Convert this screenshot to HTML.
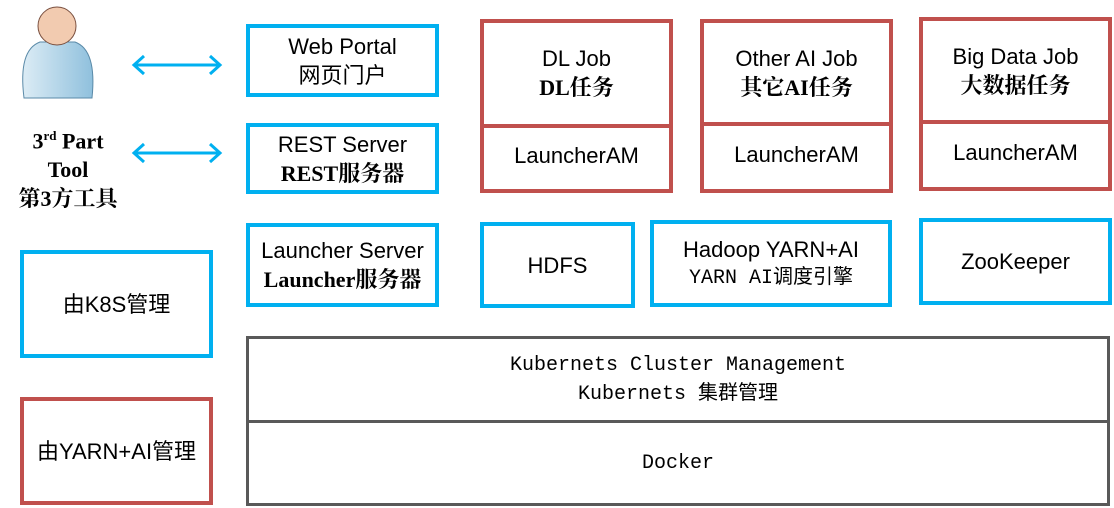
<!DOCTYPE html>
<html><head><meta charset="utf-8"><style>
body{margin:0;width:1114px;height:508px;background:#fff;position:relative;overflow:hidden;font-family:"Liberation Sans","Noto Sans CJK SC",sans-serif;color:#000}
.b{position:absolute;box-sizing:border-box;display:flex;flex-direction:column;align-items:center;justify-content:center;text-align:center;font-size:22px;line-height:29px}
.bl{border:4px solid #00b0f0}
.rd{border:4px solid #c0504d}
.gr{border:3px solid #595959}
.sf{font-family:"Liberation Serif","Noto Serif CJK SC",serif;font-weight:bold}
.mono{font-family:"Liberation Mono","Noto Sans CJK SC",monospace;font-size:20px}
.dv{position:absolute;left:0;right:0;height:0;border-top:4px solid #c0504d}
</style></head><body>
<svg style="position:absolute;left:0;top:0" width="1114" height="508">
<defs><linearGradient id="g" x1="0" x2="1"><stop offset="0" stop-color="#dcecf5"/><stop offset="1" stop-color="#8fc0dd"/></linearGradient></defs>
<path d="M24 98 Q18 50 40 42 L75 42 Q97 50 92 98 Z" fill="url(#g)" stroke="#5a8aa8"/>
<circle cx="57" cy="26" r="19" fill="#f2cbb0" stroke="#7a5040"/>
<g stroke="#00b0f0" stroke-width="3" fill="none">
<path d="M134 65 H220 M144 56 L134 65 L144 74 M210 56 L220 65 L210 74"/>
<path d="M134 153 H220 M144 144 L134 153 L144 162 M210 144 L220 153 L210 162"/>
</g>
</svg>
<div class="b sf" style="left:0;top:123px;width:136px;height:88px;font-size:22px;line-height:29px;">
<div>3<sup style="font-size:13px">rd</sup> Part</div><div>Tool</div><div>第3方工具</div></div>
<div class="b bl" style="left:246px;top:24px;width:193px;height:73px"><div>Web Portal</div><div>网页门户</div></div>
<div class="b bl" style="left:246px;top:123px;width:193px;height:71px"><div>REST Server</div><div class="sf">REST服务器</div></div>
<div class="b bl" style="left:246px;top:223px;width:193px;height:84px"><div>Launcher Server</div><div class="sf">Launcher服务器</div></div>
<div class="b bl" style="left:20px;top:250px;width:193px;height:108px">由K8S管理</div>
<div class="b rd" style="left:20px;top:397px;width:193px;height:108px">由YARN+AI管理</div>
<div class="b rd" style="left:480px;top:19px;width:193px;height:174px;justify-content:flex-start">
<div style="height:101px;display:flex;flex-direction:column;justify-content:center"><div>DL Job</div><div class="sf">DL任务</div></div>
<div class="dv" style="top:101px"></div><div style="height:66px;line-height:66px">LauncherAM</div></div>
<div class="b rd" style="left:700px;top:19px;width:193px;height:174px;justify-content:flex-start">
<div style="height:99px;display:flex;flex-direction:column;justify-content:center"><div>Other AI Job</div><div class="sf">其它AI任务</div></div>
<div class="dv" style="top:99px"></div><div style="height:66px;line-height:66px">LauncherAM</div></div>
<div class="b rd" style="left:919px;top:17px;width:193px;height:174px;justify-content:flex-start">
<div style="height:99px;display:flex;flex-direction:column;justify-content:center"><div>Big Data Job</div><div class="sf">大数据任务</div></div>
<div class="dv" style="top:99px"></div><div style="height:66px;line-height:66px">LauncherAM</div></div>
<div class="b bl" style="left:480px;top:222px;width:155px;height:86px">HDFS</div>
<div class="b bl" style="left:650px;top:220px;width:242px;height:87px"><div>Hadoop YARN+AI</div><div class="mono">YARN AI调度引擎</div></div>
<div class="b bl" style="left:919px;top:218px;width:193px;height:87px">ZooKeeper</div>
<div class="b gr mono" style="left:246px;top:336px;width:864px;height:87px"><div>Kubernets Cluster Management</div><div>Kubernets 集群管理</div></div>
<div class="b gr mono" style="left:246px;top:420px;width:864px;height:86px">Docker</div>
</body></html>
